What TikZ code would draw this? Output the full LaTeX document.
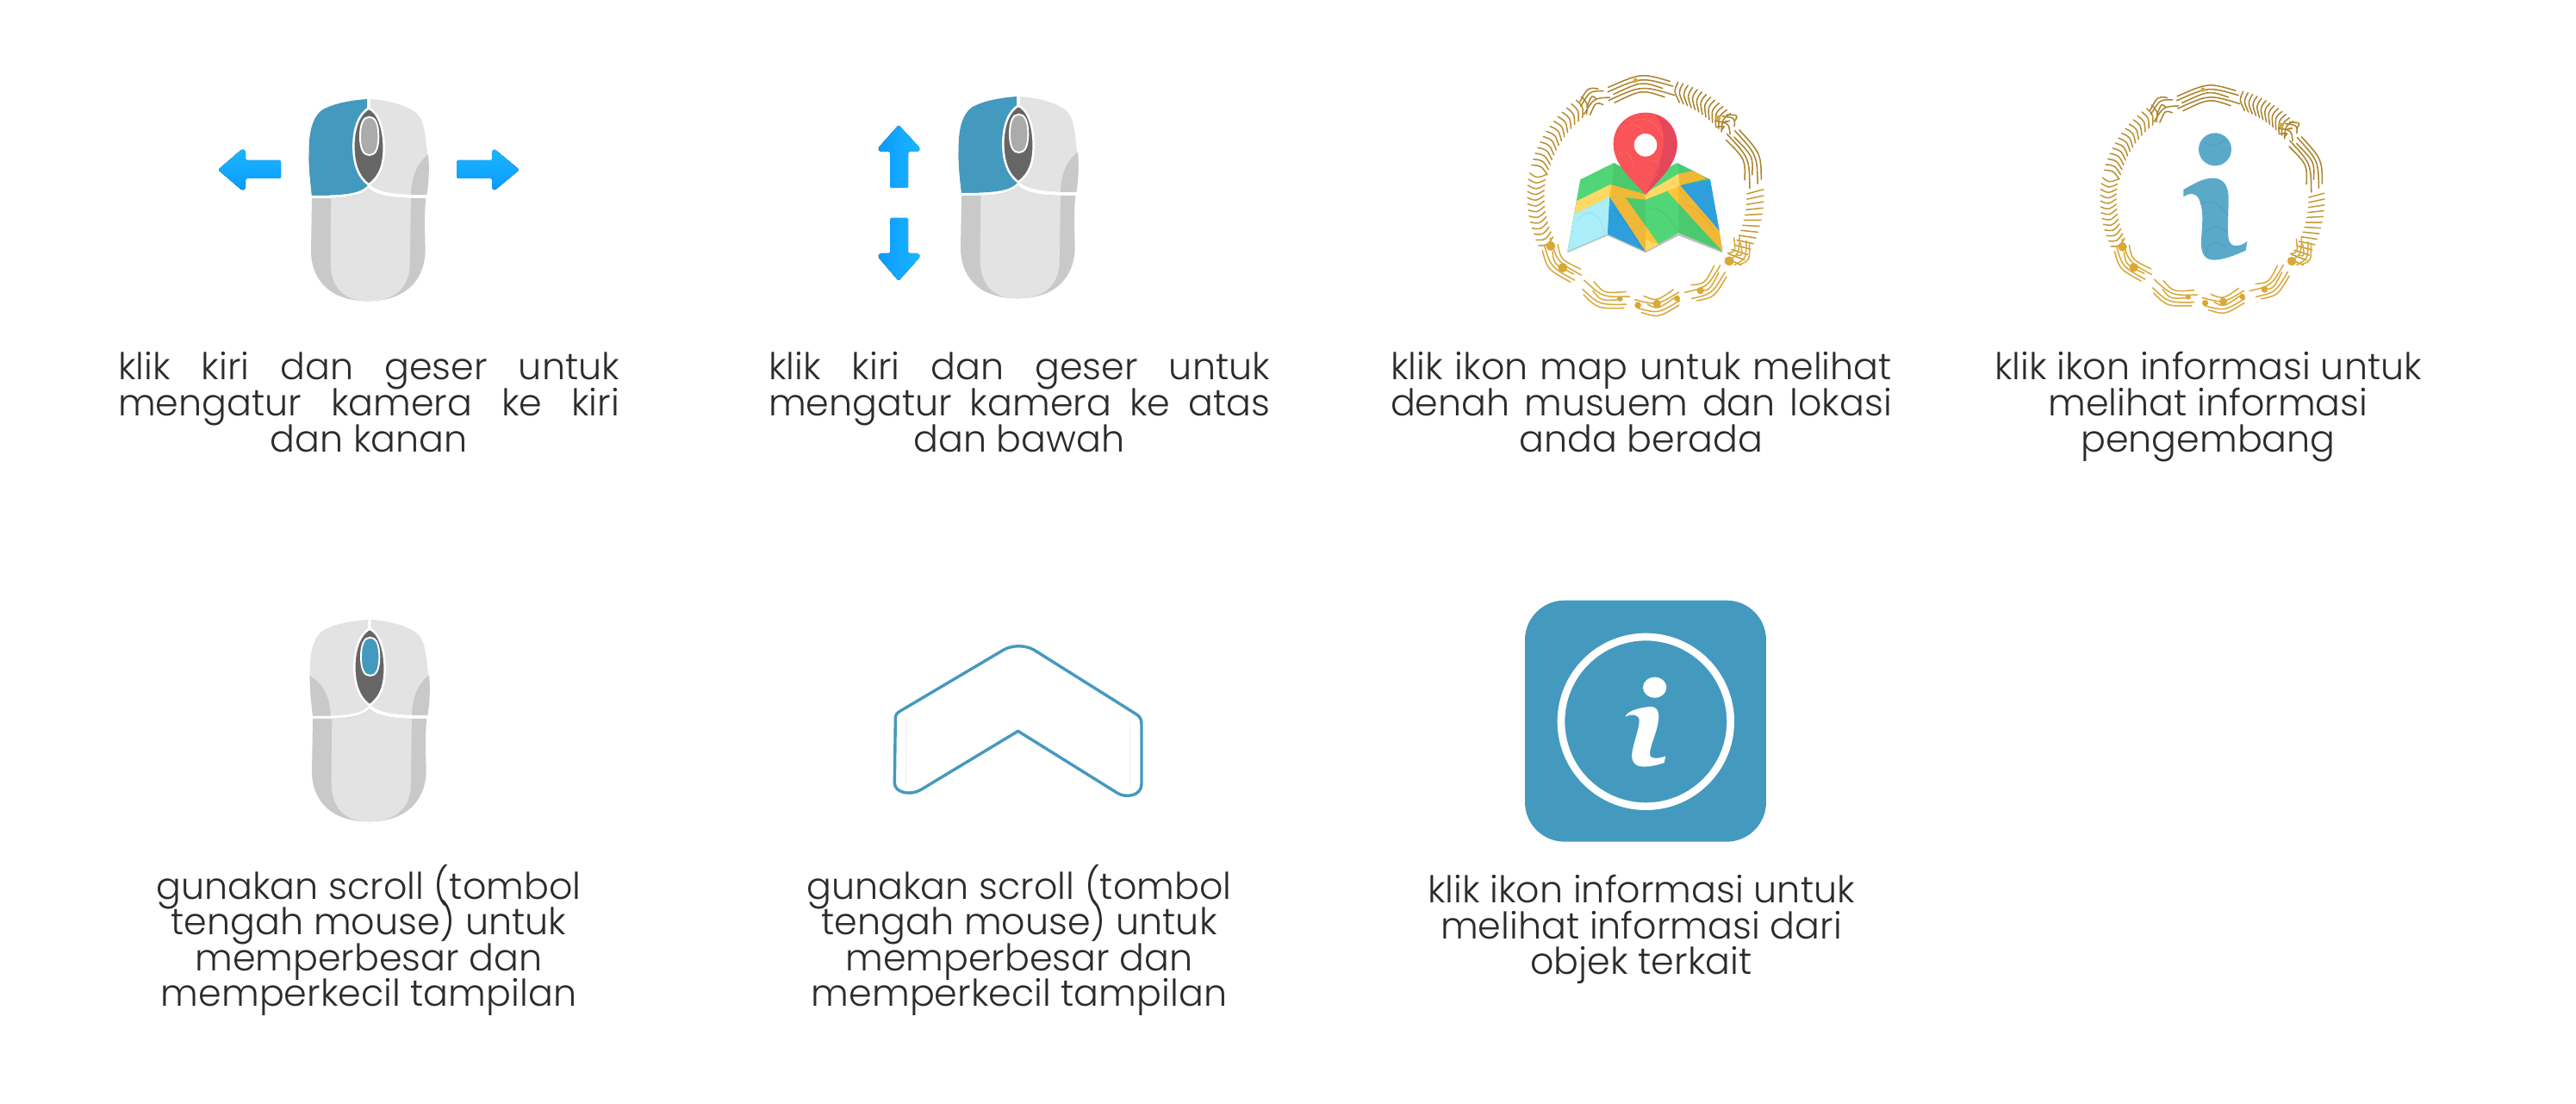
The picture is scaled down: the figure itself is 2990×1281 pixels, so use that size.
\documentclass[tikz,border=0pt]{standalone}
\usepackage{fontspec}
\setmainfont{Poppins Light}
\definecolor{teal1}{HTML}{4499BE}
\definecolor{mlight}{HTML}{E3E3E3}
\definecolor{mgrey}{HTML}{C9C9C9}
\definecolor{mdark}{HTML}{666666}
\definecolor{wheelg}{HTML}{ABABAB}
\definecolor{txt}{HTML}{2B2B2B}
\definecolor{arrowt}{HTML}{1AB6FF}
\definecolor{arrowb}{HTML}{0A9AFF}
\definecolor{goldA}{HTML}{A9832B}
\definecolor{goldB}{HTML}{D8A838}
\definecolor{igreen}{HTML}{50D676}
\definecolor{iblue}{HTML}{2FA9EA}
\definecolor{ilblue}{HTML}{A9EEF9}
\definecolor{iyel}{HTML}{FFC43A}
\definecolor{iyel2}{HTML}{FFD966}
\definecolor{ired}{HTML}{FA5358}
\definecolor{ired2}{HTML}{E4465A}
\definecolor{iteal}{HTML}{5BA9C9}
\definecolor{iteal2}{HTML}{4E9AB4}
\newcommand{\fst}{\rule{0pt}{43pt}}
\newcommand{\lst}{\rule[-13pt]{0pt}{13pt}}
\newcommand{\capfontA}{\fontsize{42.8}{42}\selectfont\lineskiplimit -100pt\relax}
\newcommand{\capfontB}{\fontsize{42.8}{41.4}\selectfont\lineskiplimit -100pt\relax}
\tikzset{
  x=1pt,y=-1pt,
  captxt/.style={font=\capfontA,text=txt,align=center,inner sep=0pt},
  captwo/.style={font=\capfontB,text=txt,align=center,inner sep=0pt},
  harrow/.style={top color=arrowt,bottom color=arrowb,draw=none,rounded corners=1.5pt},
  varrow/.style={left color=arrowb,right color=arrowt,draw=none,rounded corners=1.5pt},
  z/.style={shift={(#1)},x=0.3333pt,y=-0.3333pt},
  goldline/.style={line width=1.5pt,line cap=round},
}
\newcommand{\mymouse}[5]{%
\begin{scope}[shift={(#1,#2)},x=0.3333pt,y=-0.3333pt]
  \fill[mgrey] (-195,345) .. controls (-110,345) and (-30,345) .. (2,310) .. controls (40,345) and (120,345) .. (202,345) .. controls (196,400) and (198,450) .. (200,525) .. controls (200,610) and (150,703) .. (0,703) .. controls (-150,703) and (-198,610) .. (-198,530) -- cycle;
  \fill[mlight] (-128,345) .. controls (-70,343) and (-25,340) .. (2,310) .. controls (30,335) and (90,345) .. (150,345) -- (146,585) .. controls (140,660) and (90,703) .. (0,703) .. controls (-90,703) and (-130,650) .. (-130,565) -- cycle;
  \fill[#3] (-3,0) .. controls (-60,4) and (-120,15) .. (-160,38) .. controls (-195,65) and (-205,120) .. (-205,175) .. controls (-207,230) and (-200,290) .. (-195,335) .. controls (-110,335) and (-30,335) .. (0,300) .. controls (-40,250) and (-52,190) .. (-48,150) .. controls (-45,100) and (-30,55) .. (-3,30) -- cycle;
  \fill[#5] (-205,195) .. controls (-160,225) and (-137,260) .. (-132,335) -- (-195,335) .. controls (-200,290) and (-206,240) .. (-205,195) -- cycle;
  \fill[mlight] (8,0) .. controls (70,4) and (130,20) .. (165,45) .. controls (195,70) and (198,110) .. (205,170) .. controls (215,240) and (212,290) .. (205,333) .. controls (120,333) and (40,330) .. (8,298) .. controls (50,250) and (60,190) .. (55,140) .. controls (52,95) and (35,55) .. (8,30) -- cycle;
  \fill[mgrey] (210,193) .. controls (170,225) and (152,270) .. (150,333) -- (205,333) .. controls (212,290) and (215,240) .. (210,193) -- cycle;
  \path[fill=mdark,draw=white,line width=2.5pt] (3,32) .. controls (35,45) and (56,100) .. (56,170) .. controls (56,240) and (35,275) .. (3,298) .. controls (-30,275) and (-50,230) .. (-50,165) .. controls (-50,100) and (-30,50) .. (3,32) -- cycle;
  \path[fill=#4,draw=white,line width=1.9pt] (-27,130) .. controls (-27,85) and (-15,62) .. (5,62) .. controls (25,62) and (37,85) .. (37,130) .. controls (37,175) and (25,195) .. (5,195) .. controls (-15,195) and (-27,175) .. (-27,130) -- cycle;
\end{scope}}
\newcommand{\goldring}[3]{%
\begin{scope}[shift={(#1,#2)},x=#3 pt,y=-#3 pt]
  \foreach \a in {40,42.5,...,72}{\draw[goldline,goldA] ({cos(\a)*.84},{-sin(\a)*.84}) .. controls ({cos(\a+5)*.92},{-sin(\a+5)*.92}) .. ({cos(\a+4)*1.0},{-sin(\a+4)*1.0});}
  \foreach \a in {126,129,...,168}{\draw[goldline,goldA!70!goldB] ({cos(\a)*.85},{-sin(\a)*.85}) .. controls ({cos(\a-4)*.92},{-sin(\a-4)*.92}) .. ({cos(\a-3)*1.0},{-sin(\a-3)*1.0});}
  \foreach \a in {-38,-35,...,2}{\draw[goldline,goldB!60!goldA] ({cos(\a)*.86},{-sin(\a)*.86}) -- ({cos(\a+2)*1.0},{-sin(\a+2)*1.0});}
  \foreach \a in {168,171,...,204}{\draw[goldline,goldA!40!goldB] ({cos(\a)*.86},{-sin(\a)*.86}) .. controls ({cos(\a+3)*.93},{-sin(\a+3)*.93}) .. ({cos(\a+1)*1.0},{-sin(\a+1)*1.0});}
  \foreach \s/\e/\c in {72/112/goldA,108/128/goldA,2/38/goldA,34/48/goldA,202/232/goldB,232/262/goldB,262/290/goldB,290/318/goldB,318/338/goldB}{
    \foreach \r/\d in {.85/7,.885/2,.92/9,.955/4,.99/6}{
      \draw[goldline,\c] ({cos(\s+\d)*\r},{-sin(\s+\d)*\r}) .. controls ({cos((\s+\e)/2)*(\r+.05)},{-sin((\s+\e)/2)*(\r+.05)}) .. ({cos(\e-\d/2)*(\r-.02)},{-sin(\e-\d/2)*(\r-.02)});
    }
  }
  \foreach \a/\r/\s in {208/.91/.04,221/.93/.04,276/.92/.034,266/.93/.028,256/.9/.024,287/.91/.026,300/.93/.03,322/.9/.04,95/.98/.02,47/.9/.024}{\fill[goldB] ({cos(\a)*\r},{-sin(\a)*\r}) circle[radius=\s*#3 pt];}
\end{scope}}
\begin{document}
\begin{tikzpicture}
\useasboundingbox (0,0) rectangle (2990,1281);
\fill[white] (0,0) rectangle (2990,1281);
\mymouse{427}{115}{teal1}{wheelg}{teal1}
\fill[harrow] (253,197) -- (281,173) -- (285,175) -- (285,186) -- (326,186) -- (326,207) -- (285,207) -- (285,219) -- (281,221) -- cycle;
\fill[harrow] (603,197) -- (574,173) -- (571,175) -- (571,186) -- (530,186) -- (530,207) -- (571,207) -- (571,219) -- (574,221) -- cycle;
\mymouse{1181}{112}{teal1}{wheelg}{teal1}
\fill[varrow] (1043,145) -- (1019,172) -- (1021,176) -- (1033,176) -- (1033,218) -- (1054,218) -- (1054,176) -- (1066,176) -- (1068,172) -- cycle;
\fill[varrow] (1043,326) -- (1019,298) -- (1021,294) -- (1033,294) -- (1033,253) -- (1054,253) -- (1054,294) -- (1066,294) -- (1068,298) -- cycle;
\mymouse{428}{719}{mlight}{teal1}{mgrey}
\goldring{1910}{227}{137}
\begin{scope}[z={1740,70}]
  \fill[black!25] (283,418) -- (238,670) -- (378,610) -- (510,670) -- (625,610) -- (778,670) -- (735,418) -- cycle;
  \fill[igreen] (283,415) -- (400,357) -- (510,415) -- (620,357) -- (735,415) -- (778,665) -- (625,600) -- (510,665) -- (378,605) -- (238,665) -- cycle;
  \fill[ilblue] (262,535) -- (385,475) -- (378,605) -- (238,665) -- cycle;
  \fill[iblue] (385,475) -- (510,665) -- (378,605) -- cycle;
  \fill[iblue] (630,435) -- (735,415) -- (768,595) -- cycle;
  \fill[iyel] (385,475) -- (440,478) -- (555,640) -- (510,665) -- cycle;
  \fill[iyel] (585,455) -- (630,435) -- (768,595) -- (778,665) -- cycle;
  \fill[iyel2] (262,535) -- (270,490) -- (388,432) -- (385,475) -- cycle;
  \fill[iyel] (388,432) -- (505,465) -- (510,485) -- (440,478) -- (385,475) -- cycle;
  \fill[iyel2] (505,465) -- (625,395) -- (640,432) -- (585,455) -- (510,485) -- cycle;
  \fill[iyel] (625,395) -- (678,385) -- (722,412) -- (630,435) -- cycle;
  \fill[iyel2] (510,625) -- (555,640) -- (510,665) -- cycle;
  \fill[black,opacity=.06] (400,357) -- (510,415) -- (510,665) -- (378,605) -- cycle;
  \fill[black,opacity=.06] (625,357) -- (735,415) -- (778,665) -- (625,600) -- cycle;
  \draw[black,opacity=.07,line width=.8pt] (270,560) .. controls (320,500) and (350,540) .. (370,600) (400,520) .. controls (440,560) and (470,600) .. (490,650) (520,520) .. controls (560,500) and (600,560) .. (620,590) (650,500) .. controls (700,520) and (730,560) .. (750,600);
  \fill[ired] (510,468) .. controls (480,430) and (398,370) .. (398,292) .. controls (398,225) and (450,182) .. (510,182) .. controls (570,182) and (620,225) .. (620,292) .. controls (620,370) and (540,430) .. (510,468) -- cycle;
  \fill[ired2] (510,468) .. controls (540,430) and (620,370) .. (620,292) .. controls (620,250) and (590,205) .. (545,190) .. controls (585,240) and (590,320) .. (510,468) -- cycle;
  \draw[white,opacity=.12,line width=.8pt] (420,250) .. controls (450,210) and (490,220) .. (500,250) (415,330) .. controls (440,300) and (460,330) .. (470,370) (470,210) .. controls (520,190) and (560,230) .. (570,270) (530,350) .. controls (560,340) and (570,370) .. (540,410);
  \fill[white] (510,295) circle[radius=40];
\end{scope}
\goldring{2568}{231}{130}
\begin{scope}[z={2410,90}]
  \fill[iteal] (483,250) circle[radius=57];
  \fill[iteal] (373,415) -- (373,390) .. controls (410,370) and (440,350) .. (475,350) .. controls (515,350) and (530,380) .. (530,420) .. controls (530,480) and (525,530) .. (530,560) .. controls (535,595) and (570,590) .. (595,570) -- (590,602) .. controls (550,620) and (510,635) .. (480,635) .. controls (445,635) and (433,610) .. (435,570) .. controls (437,520) and (445,470) .. (430,430) .. controls (420,400) and (395,400) .. (373,415) -- cycle;
  \draw[iteal2,line width=.6pt] (445,225) .. controls (470,240) and (490,240) .. (520,215);
  \draw[iteal2,line width=.6pt] (430,440) .. controls (470,420) and (500,440) .. (528,480);
  \draw[iteal2,line width=.6pt] (436,560) .. controls (470,500) and (500,520) .. (528,540);
  \draw[iteal2,line width=.6pt] (450,620) .. controls (460,560) and (490,570) .. (520,590);
\end{scope}
\begin{scope}[z={1010,730}]
  \draw[black!6,line width=.4pt] (125,310) -- (125,545) (905,320) -- (905,552);
  \draw[teal1,line width=3.4pt] (88,310) .. controls (88,298) and (95,290) .. (105,285) -- (465,72) .. controls (495,55) and (540,55) .. (570,72) -- (925,295) .. controls (938,303) and (945,312) .. (945,330) -- (945,540) .. controls (945,580) and (890,590) .. (860,570) -- (515,355) -- (175,560) .. controls (140,580) and (85,570) .. (85,535) -- cycle;
\end{scope}
\begin{scope}[z={1750,680}]
  \fill[teal1,rounded corners=46pt] (60,50) rectangle (900,890);
  \draw[white,line width=8.7pt] (481,472) circle[radius=295];
  \fill[white] (512,353) ellipse[x radius=41,y radius=36];
  \fill[white] (410,455) .. controls (412,435) and (470,420) .. (500,420) .. controls (525,422) and (530,445) .. (523,480) .. controls (515,520) and (495,560) .. (495,585) .. controls (495,605) and (530,600) .. (550,592) -- (545,615) .. controls (510,628) and (480,630) .. (465,628) .. controls (435,625) and (428,600) .. (435,570) .. controls (442,535) and (460,490) .. (458,465) .. controls (455,445) and (430,445) .. (410,455) -- cycle;
\end{scope}
\node[captxt] (t1) at (428,467.3) {\fst\makebox[582pt][s]{klik kiri dan geser untuk}\\\makebox[582pt][s]{mengatur kamera ke kiri}\\dan kanan\lst};
\node[captxt] (t2) at (1183,467.3) {\fst\makebox[582pt][s]{klik kiri dan geser untuk}\\\makebox[582pt][s]{mengatur kamera ke atas}\\dan bawah\lst};
\node[captxt] (t3) at (1905,467.3) {\fst\makebox[582pt][s]{klik ikon map untuk melihat}\\\makebox[582pt][s]{denah musuem dan lokasi}\\anda berada\lst};
\node[captxt] (t4) at (2563,467.3) {\fst klik ikon informasi untuk\\melihat informasi\\pengembang\lst};
\node[captwo] (t5) at (428,1090.5) {\fst gunakan scroll (tombol\\tengah mouse) untuk\\memperbesar dan\\memperkecil tampilan\lst};
\node[captwo] (t6) at (1183,1090.5) {\fst gunakan scroll (tombol\\tengah mouse) untuk\\memperbesar dan\\memperkecil tampilan\lst};
\node[captwo] (t7) at (1905,1074) {\fst klik ikon informasi untuk\\melihat informasi dari\\objek terkait\lst};
\end{tikzpicture}
\end{document}
